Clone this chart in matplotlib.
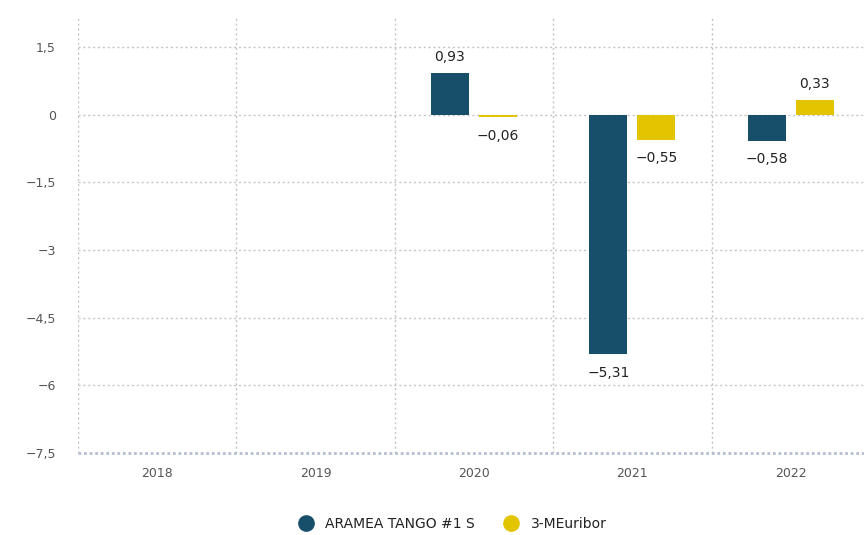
import numpy as np
import matplotlib
matplotlib.use("Agg")
import matplotlib.pyplot as plt
from matplotlib.lines import Line2D

# Datos del gráfico
anios = ["2018", "2019", "2020", "2021", "2022"]
fondo = [np.nan, np.nan, 0.93, -5.31, -0.58]
euribor = [np.nan, np.nan, -0.06, -0.55, 0.33]
ticks_y = [-7.5, -6, -4.5, -3, -1.5, 0, 1.5]

azul = "#174f6b"
amarillo = "#e2c400"
gris_texto = "#555555"

plt.rcParams["font.family"] = ["DejaVu Sans"]

fig = plt.figure(figsize=(8.64, 5.35), dpi=100)
ax = fig.add_axes([78 / 864, 1 - 453 / 535, 792 / 864, (453 - 16) / 535])

x = np.arange(len(anios))
ancho = 0.24
desp = 0.152

ax.bar(x - desp, fondo, ancho, color=azul, zorder=3)
ax.bar(x + desp, euribor, ancho, color=amarillo, zorder=3)

def fmt(v):
    return f"{v:.2f}".replace(".", ",").replace("-", "\u2212")

# Etiquetas de valor sobre/bajo cada barra
for xs, serie in [(x - desp, fondo), (x + desp, euribor)]:
    for xi, v in zip(xs, serie):
        if np.isnan(v):
            continue
        va = "bottom" if v >= 0 else "top"
        off = 0.2 if v >= 0 else -0.25
        ax.text(xi, v + off, fmt(v), ha="center", va=va, fontsize=10, color="#222222")

ax.set_xlim(-0.5, len(anios) - 0.5)
ax.set_ylim(-7.5, 2.19)
ax.set_xticks(x)
ax.set_xticklabels(anios)
ax.set_yticks(ticks_y)
ax.set_yticklabels([f"{t:g}".replace(".", ",").replace("-", "\u2212") for t in ticks_y])
ax.tick_params(axis="both", length=0, colors=gris_texto, labelsize=9)
ax.tick_params(axis="x", pad=10)
ax.tick_params(axis="y", pad=16)

# Rejilla
for t in ticks_y[1:]:
    ax.axhline(t, color="#c4c4c4", lw=1, ls=(0, (1.5, 2)), zorder=1)
for b in np.arange(-0.5, len(anios), 1.0):
    ax.axvline(b, color="#c4c4c4", lw=1, ls=(0, (1.5, 2)), zorder=1)
for s in ax.spines.values():
    s.set_visible(False)
ax.axhline(-7.5, color="#b3bfd0", lw=2, ls=(0, (1, 1)), zorder=2, clip_on=False)

handles = [
    Line2D([], [], marker="o", ls="", markersize=11, color=azul, label="ARAMEA TANGO #1 S"),
    Line2D([], [], marker="o", ls="", markersize=11, color=amarillo, label="3-MEuribor"),
]
fig.legend(handles=handles, loc="center", bbox_to_anchor=(0.52, 1 - 524 / 535), ncol=2,
           frameon=False, fontsize=10, handletextpad=0.4, columnspacing=1.6,
           labelcolor="#222222")

fig.savefig("out.png", dpi=100)
